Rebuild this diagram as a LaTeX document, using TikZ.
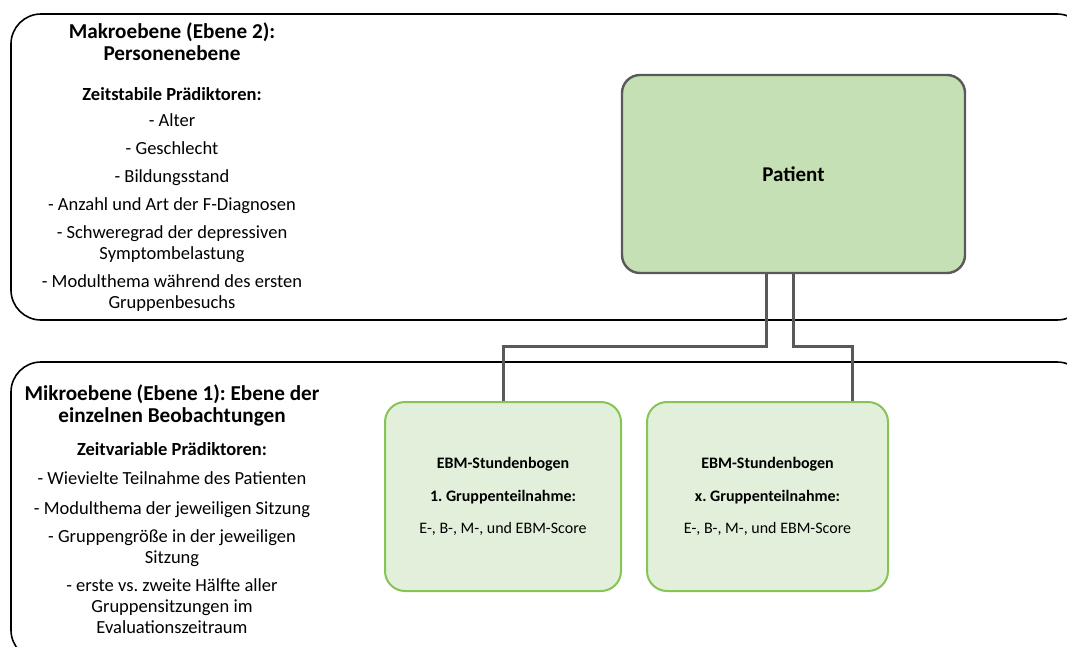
\documentclass[tikz,border=0pt]{standalone}
\usepackage{fontspec}
\setmainfont{Carlito}
\frenchspacing
\definecolor{levelline}{HTML}{000000}
\definecolor{patfill}{HTML}{C5E0B4}
\definecolor{patdraw}{HTML}{595959}
\definecolor{obsfill}{HTML}{E2EFDA}
\definecolor{obsdraw}{HTML}{86C454}
\definecolor{linkgray}{HTML}{595959}
\tikzset{
  level/.style={draw=levelline, line width=1.6pt, rounded corners=30pt},
  headtext/.style={anchor=north, inner sep=0pt, align=center, font=\bfseries\fontsize{21.2}{22}\selectfont},
  listtext/.style={anchor=north, inner sep=0pt, align=center, font=\fontsize{18.5}{21}\selectfont},
  patientbox/.style={draw=patdraw, fill=patfill, line width=2.4pt, rounded corners=18pt,
    minimum width=343pt, minimum height=198pt, inner sep=0pt, font=\bfseries\fontsize{21}{24}\selectfont},
  obsbox/.style={draw=obsdraw, fill=obsfill, line width=2pt, rounded corners=20pt,
    minimum height=189pt, inner sep=0pt, align=center, font=\fontsize{16}{32.5}\selectfont},
  link/.style={draw=linkgray, line width=3pt}
}
\begin{document}
\begin{tikzpicture}[x=1pt, y=-1pt]
\useasboundingbox (0,0) rectangle (1067,646);
\clip (0,0) rectangle (1067,646);

% level containers
\draw[level] (11,14) rectangle (1087,320);
\draw[level] (11,362) rectangle (1087,660);

% level 2 text
\node[headtext] (makro) at (172,23) {Makroebene (Ebene 2):\\Personenebene};
\node[listtext] (stabil) at (172,87.5) {\textbf{Zeitstabile Prädiktoren:}\\[5pt]
  - Alter\\[7pt]
  - Geschlecht\\[7pt]
  - Bildungsstand\\[7pt]
  - Anzahl und Art der F-Diagnosen\\[7pt]
  - Schweregrad der depressiven\\Symptombelastung\\[7pt]
  - Modulthema während des ersten\\Gruppenbesuchs};

% level 1 text
\node[headtext] (mikro) at (172,385) {Mikroebene (Ebene 1): Ebene der\\einzelnen Beobachtungen};
\node[listtext] (variabel) at (172,442) {\textbf{Zeitvariable Prädiktoren:}\\[8pt]
  - Wievielte Teilnahme des Patienten\\[9pt]
  - Modulthema der jeweiligen Sitzung\\[7pt]
  - Gruppengröße in der jeweiligen\\Sitzung\\[7pt]
  - erste vs. zweite Hälfte aller\\Gruppensitzungen im\\Evaluationszeitraum};

% units of observation
\node[patientbox] (pat) at (793.5,174) {Patient};
\node[obsbox, minimum width=236pt] (obs1) at (503,496.5)
  {\textbf{EBM-Stundenbogen}\\\textbf{1. Gruppenteilnahme:}\\E-, B-, M-, und EBM-Score};
\node[obsbox, minimum width=241pt] (obsx) at (767.5,496.5)
  {\textbf{EBM-Stundenbogen}\\\textbf{x. Gruppenteilnahme:}\\E-, B-, M-, und EBM-Score};

% nesting links
\coordinate (bendl) at (766,346);
\coordinate (bendr) at (793,346);
\draw[link] (bendl |- pat.south) -- (bendl) -| (obs1.north);
\draw[link] (bendr |- pat.south) -- (bendr) -| ([xshift=84.5pt]obsx.north);
\end{tikzpicture}
\end{document}
